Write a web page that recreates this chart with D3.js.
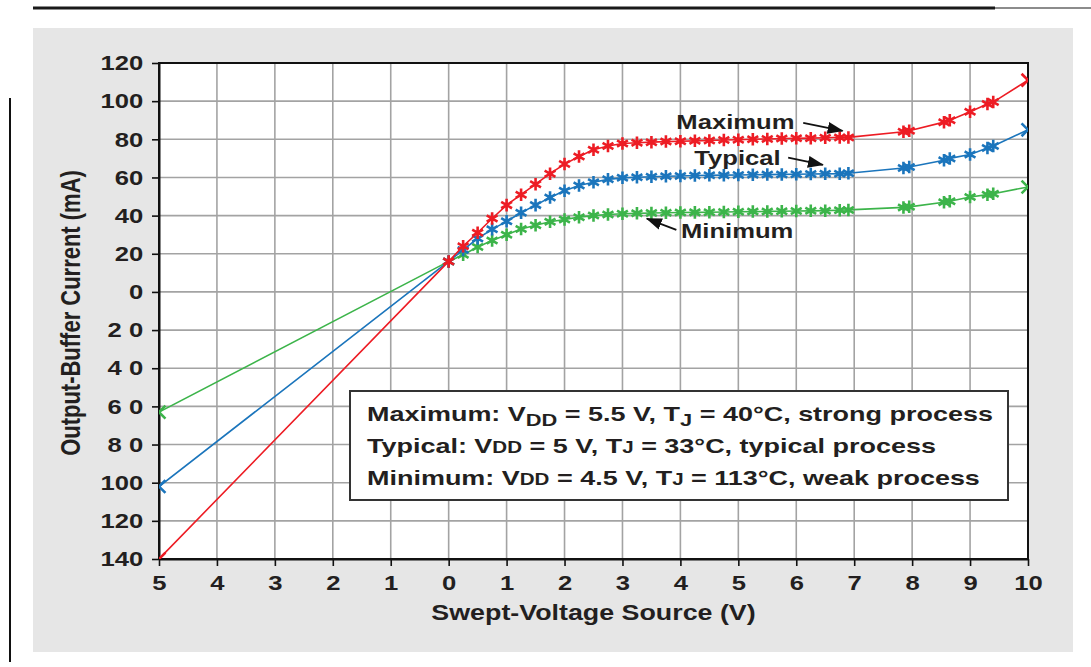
<!DOCTYPE html>
<html>
<head>
<meta charset="utf-8">
<script src="https://cdn.jsdelivr.net/npm/d3@7"></script>
<style>
  html, body { margin: 0; padding: 0; background: #ffffff; }
  svg { display: block; }
  text { font-family: "Liberation Sans", Arial, sans-serif; }
</style>
</head>
<body>
<script>
// ---------------- data ----------------
const xTicks = [-5, -4, -3, -2, -1, 0, 1, 2, 3, 4, 5, 6, 7, 8, 9, 10];
const xLabels = ["5", "4", "3", "2", "1", "0", "1", "2", "3", "4", "5", "6", "7", "8", "9", "10"];
const yTicks = [120, 100, 80, 60, 40, 20, 0, -20, -40, -60, -80, -100, -120, -140];
const yLabels = ["120", "100", "80", "60", "40", "20", "0", "2 0", "4 0", "6 0", "8 0", "100", "120", "140"];

// swept voltage (V); first point is the -5 V end of the straight segment
const volts = [-5, 0, 0.25, 0.5, 0.75, 1, 1.25, 1.5, 1.75, 2, 2.25, 2.5, 2.75, 3, 3.25, 3.5, 3.75, 4,
  4.25, 4.5, 4.75, 5, 5.25, 5.5, 5.75, 6, 6.25, 6.5, 6.75, 6.9, 7.85, 7.95, 8.55, 8.65, 9.0, 9.3, 9.4, 10];

const maximumCurrent = [-140, 16, 24, 31, 38.5, 45.5, 51, 56.5, 62, 67, 71, 74.5, 76.5, 77.8, 78.2, 78.5, 78.8, 79,
  79.2, 79.4, 79.6, 79.8, 80, 80.2, 80.4, 80.5, 80.6, 80.8, 81, 81, 84, 84.5, 89, 90, 94.5, 98.5, 99.5, 111];
const typicalCurrent = [-102, 16, 22, 28, 32.8, 37, 41.5, 45.5, 49.5, 53, 55.8, 57.5, 59, 59.8, 60.1, 60.4, 60.6, 60.8,
  61, 61.1, 61.2, 61.3, 61.4, 61.5, 61.6, 61.7, 61.8, 61.9, 62, 62.2, 65, 65.5, 69, 70, 72, 75.5, 76.5, 85];
const minimumCurrent = [-63, 16, 19.5, 23.5, 27, 30, 33, 35, 36.8, 38, 39.2, 40, 40.6, 41, 41.2, 41.4, 41.5, 41.6,
  41.7, 41.8, 41.9, 42, 42.1, 42.2, 42.3, 42.4, 42.5, 42.6, 42.8, 43, 44.3, 44.6, 47, 47.5, 49.8, 51, 51.5, 55];

const seriesNames = ["Maximum", "Typical", "Minimum"];
const seriesColors = ["#ed1c24", "#1b75bc", "#3cb44a"];
const seriesValues = [maximumCurrent, typicalCurrent, minimumCurrent];

// annotation labels (data coordinates) and arrows [from, to]
const annoLabels = [
  { text: "Maximum", x: 3.93, y: 85.3 },
  { text: "Typical", x: 4.24, y: 66.3 },
  { text: "Minimum", x: 4.01, y: 28.3 }
];
const annoArrows = [
  [[6.12, 88.6], [6.8, 84.4]],
  [[5.86, 70.4], [6.46, 66.6]],
  [[3.93, 32.5], [3.42, 38.4]]
];

// legend lines: plain strings, or [text, "sub"] for subscript, [text, "small"] for small caps on baseline
const legendLines = [
  ["Maximum: V", ["DD", "sub"], " = 5.5 V, T", ["J", "sub"], " = 40°C, strong process"],
  ["Typical: V", ["DD", "small"], " = 5 V, T", ["J", "small"], " = 33°C, typical process"],
  ["Minimum: V", ["DD", "small"], " = 4.5 V, T", ["J", "small"], " = 113°C, weak process"]
];

// ---------------- drawing ----------------
const W = 1091, H = 667;
const SX = 1.22;   // horizontal stretch of the original artwork's lettering
const SXL = 1.285; // legend lettering stretch
const svg = d3.select("body").append("svg").attr("width", W).attr("height", H);

// page decorations
svg.append("line").attr("x1", 33).attr("x2", 995).attr("y1", 8).attr("y2", 8)
  .attr("stroke", "#1a1a1a").attr("stroke-width", 3);
svg.append("line").attr("x1", 995).attr("x2", 1091).attr("y1", 8).attr("y2", 8)
  .attr("stroke", "#666").attr("stroke-width", 1.5);
svg.append("line").attr("x1", 10).attr("x2", 10).attr("y1", 98).attr("y2", 662)
  .attr("stroke", "#111").attr("stroke-width", 2);
svg.append("rect").attr("x", 33).attr("y", 28).attr("width", 1040).attr("height", 624)
  .attr("fill", "#e6e6e6");

const x = d3.scaleLinear().domain([-5, 10]).range([159, 1028]);
const y = d3.scaleLinear().domain([-140, 120]).range([559, 63]);
const [x0, x1] = x.range();
const [y0, y1] = y.range();

// plot background
svg.append("rect").attr("x", x0).attr("y", y1).attr("width", x1 - x0).attr("height", y0 - y1)
  .attr("fill", "#ffffff");

// grid
const grid = svg.append("g").attr("stroke", "#a3a3a3").attr("stroke-width", 1.6);
grid.selectAll("line.v").data(xTicks).join("line").attr("class", "v")
  .attr("x1", d => x(d)).attr("x2", d => x(d)).attr("y1", y1).attr("y2", y0);
grid.selectAll("line.h").data(yTicks).join("line").attr("class", "h")
  .attr("x1", x0).attr("x2", x1).attr("y1", d => y(d)).attr("y2", d => y(d));

// axes
const xAxis = svg.append("g").attr("transform", `translate(0,${y0})`)
  .call(d3.axisBottom(x).tickValues(xTicks).tickFormat((d, i) => xLabels[i]).tickSize(7).tickPadding(9).tickSizeOuter(0));
const yAxis = svg.append("g").attr("transform", `translate(${x0},0)`)
  .call(d3.axisLeft(y).tickValues(yTicks).tickFormat((d, i) => yLabels[i]).tickSize(7).tickPadding(6).tickSizeOuter(0));
[xAxis, yAxis].forEach(a => {
  a.select(".domain").attr("stroke", "#111").attr("stroke-width", 2);
  a.selectAll(".tick line").attr("stroke", "#111").attr("stroke-width", 1.6);
  a.selectAll(".tick text").attr("fill", "#231f20").attr("font-size", 21).attr("font-weight", "bold")
    .attr("font-family", "'Liberation Sans', Arial, sans-serif")
    .attr("transform", `scale(${SX},1)`);
});

// plot frame
svg.append("rect").attr("x", x0).attr("y", y1).attr("width", x1 - x0).attr("height", y0 - y1)
  .attr("fill", "none").attr("stroke", "#111").attr("stroke-width", 2);

// axis titles
svg.append("text").attr("transform", `translate(${(x0 + x1) / 2},620) scale(${SX},1)`)
  .attr("text-anchor", "middle").attr("font-size", 22).attr("font-weight", "bold").attr("fill", "#231f20")
  .text("Swept-Voltage Source (V)");
svg.append("text").attr("transform", `translate(80,313) scale(${SX},1) rotate(-90)`)
  .attr("text-anchor", "middle").attr("font-size", 22).attr("font-weight", "bold").attr("fill", "#231f20")
  .text("Output-Buffer Current (mA)");

// series
svg.append("clipPath").attr("id", "plotclip").append("rect")
  .attr("x", x0).attr("y", y1).attr("width", x1 - x0).attr("height", y0 - y1);
const plot = svg.append("g").attr("clip-path", "url(#plotclip)");
const line = d3.line().x(d => x(d[0])).y(d => y(d[1]));
const star = d3.symbol().type(d3.symbolAsterisk).size(110);
const cross = d3.symbol().type(d3.symbolTimes).size(110);

// draw minimum first so maximum sits on top
[2, 1, 0].forEach(si => {
  const pts = volts.map((v, i) => [v, seriesValues[si][i]]);
  const g = plot.append("g");
  g.append("path").datum(pts).attr("d", line).attr("fill", "none")
    .attr("stroke", seriesColors[si]).attr("stroke-width", 1.6);
  g.selectAll("path.m").data(pts).join("path").attr("class", "m")
    .attr("transform", d => `translate(${x(d[0])},${y(d[1])})`)
    .attr("d", (d, i) => (i === 0 || i === pts.length - 1) ? cross() : star())
    .attr("fill", "none").attr("stroke", seriesColors[si]).attr("stroke-width", 2.6);
});

// legend box
const lg = svg.append("g");
lg.append("rect").attr("x", 350).attr("y", 391).attr("width", 658).attr("height", 109)
  .attr("fill", "#ffffff").attr("stroke", "#333").attr("stroke-width", 2);
const baselines = [421, 453, 485];
legendLines.forEach((parts, li) => {
  const t = lg.append("text").attr("transform", `translate(367,${baselines[li]}) scale(${SXL},1)`)
    .attr("font-size", 21).attr("font-weight", "bold").attr("fill", "#231f20");
  let shifted = 0;
  parts.forEach(p => {
    if (typeof p === "string") {
      t.append("tspan").attr("dy", -shifted).text(p);
      shifted = 0;
    } else if (p[1] === "sub") {
      t.append("tspan").attr("font-size", 17).attr("dy", 5).text(p[0]);
      shifted = 5;
    } else {
      t.append("tspan").attr("font-size", 16).attr("dy", 0).text(p[0]);
      shifted = 0;
    }
  });
});

// annotations
const defs = svg.append("defs");
defs.append("marker").attr("id", "ah").attr("markerUnits", "userSpaceOnUse")
  .attr("viewBox", "0 0 16 12").attr("refX", 15).attr("refY", 6)
  .attr("markerWidth", 16).attr("markerHeight", 12).attr("orient", "auto")
  .append("path").attr("d", "M0,0 L16,6 L0,12 Z").attr("fill", "#111");
svg.append("g").selectAll("line").data(annoArrows).join("line")
  .attr("x1", d => x(d[0][0])).attr("y1", d => y(d[0][1]))
  .attr("x2", d => x(d[1][0])).attr("y2", d => y(d[1][1]))
  .attr("stroke", "#111").attr("stroke-width", 1.8).attr("marker-end", "url(#ah)");
svg.append("g").selectAll("text").data(annoLabels).join("text")
  .attr("transform", d => `translate(${x(d.x)},${y(d.y)}) scale(${SX},1)`)
  .attr("font-size", 21).attr("font-weight", "bold").attr("fill", "#231f20")
  .text(d => d.text);
</script>
</body>
</html>
